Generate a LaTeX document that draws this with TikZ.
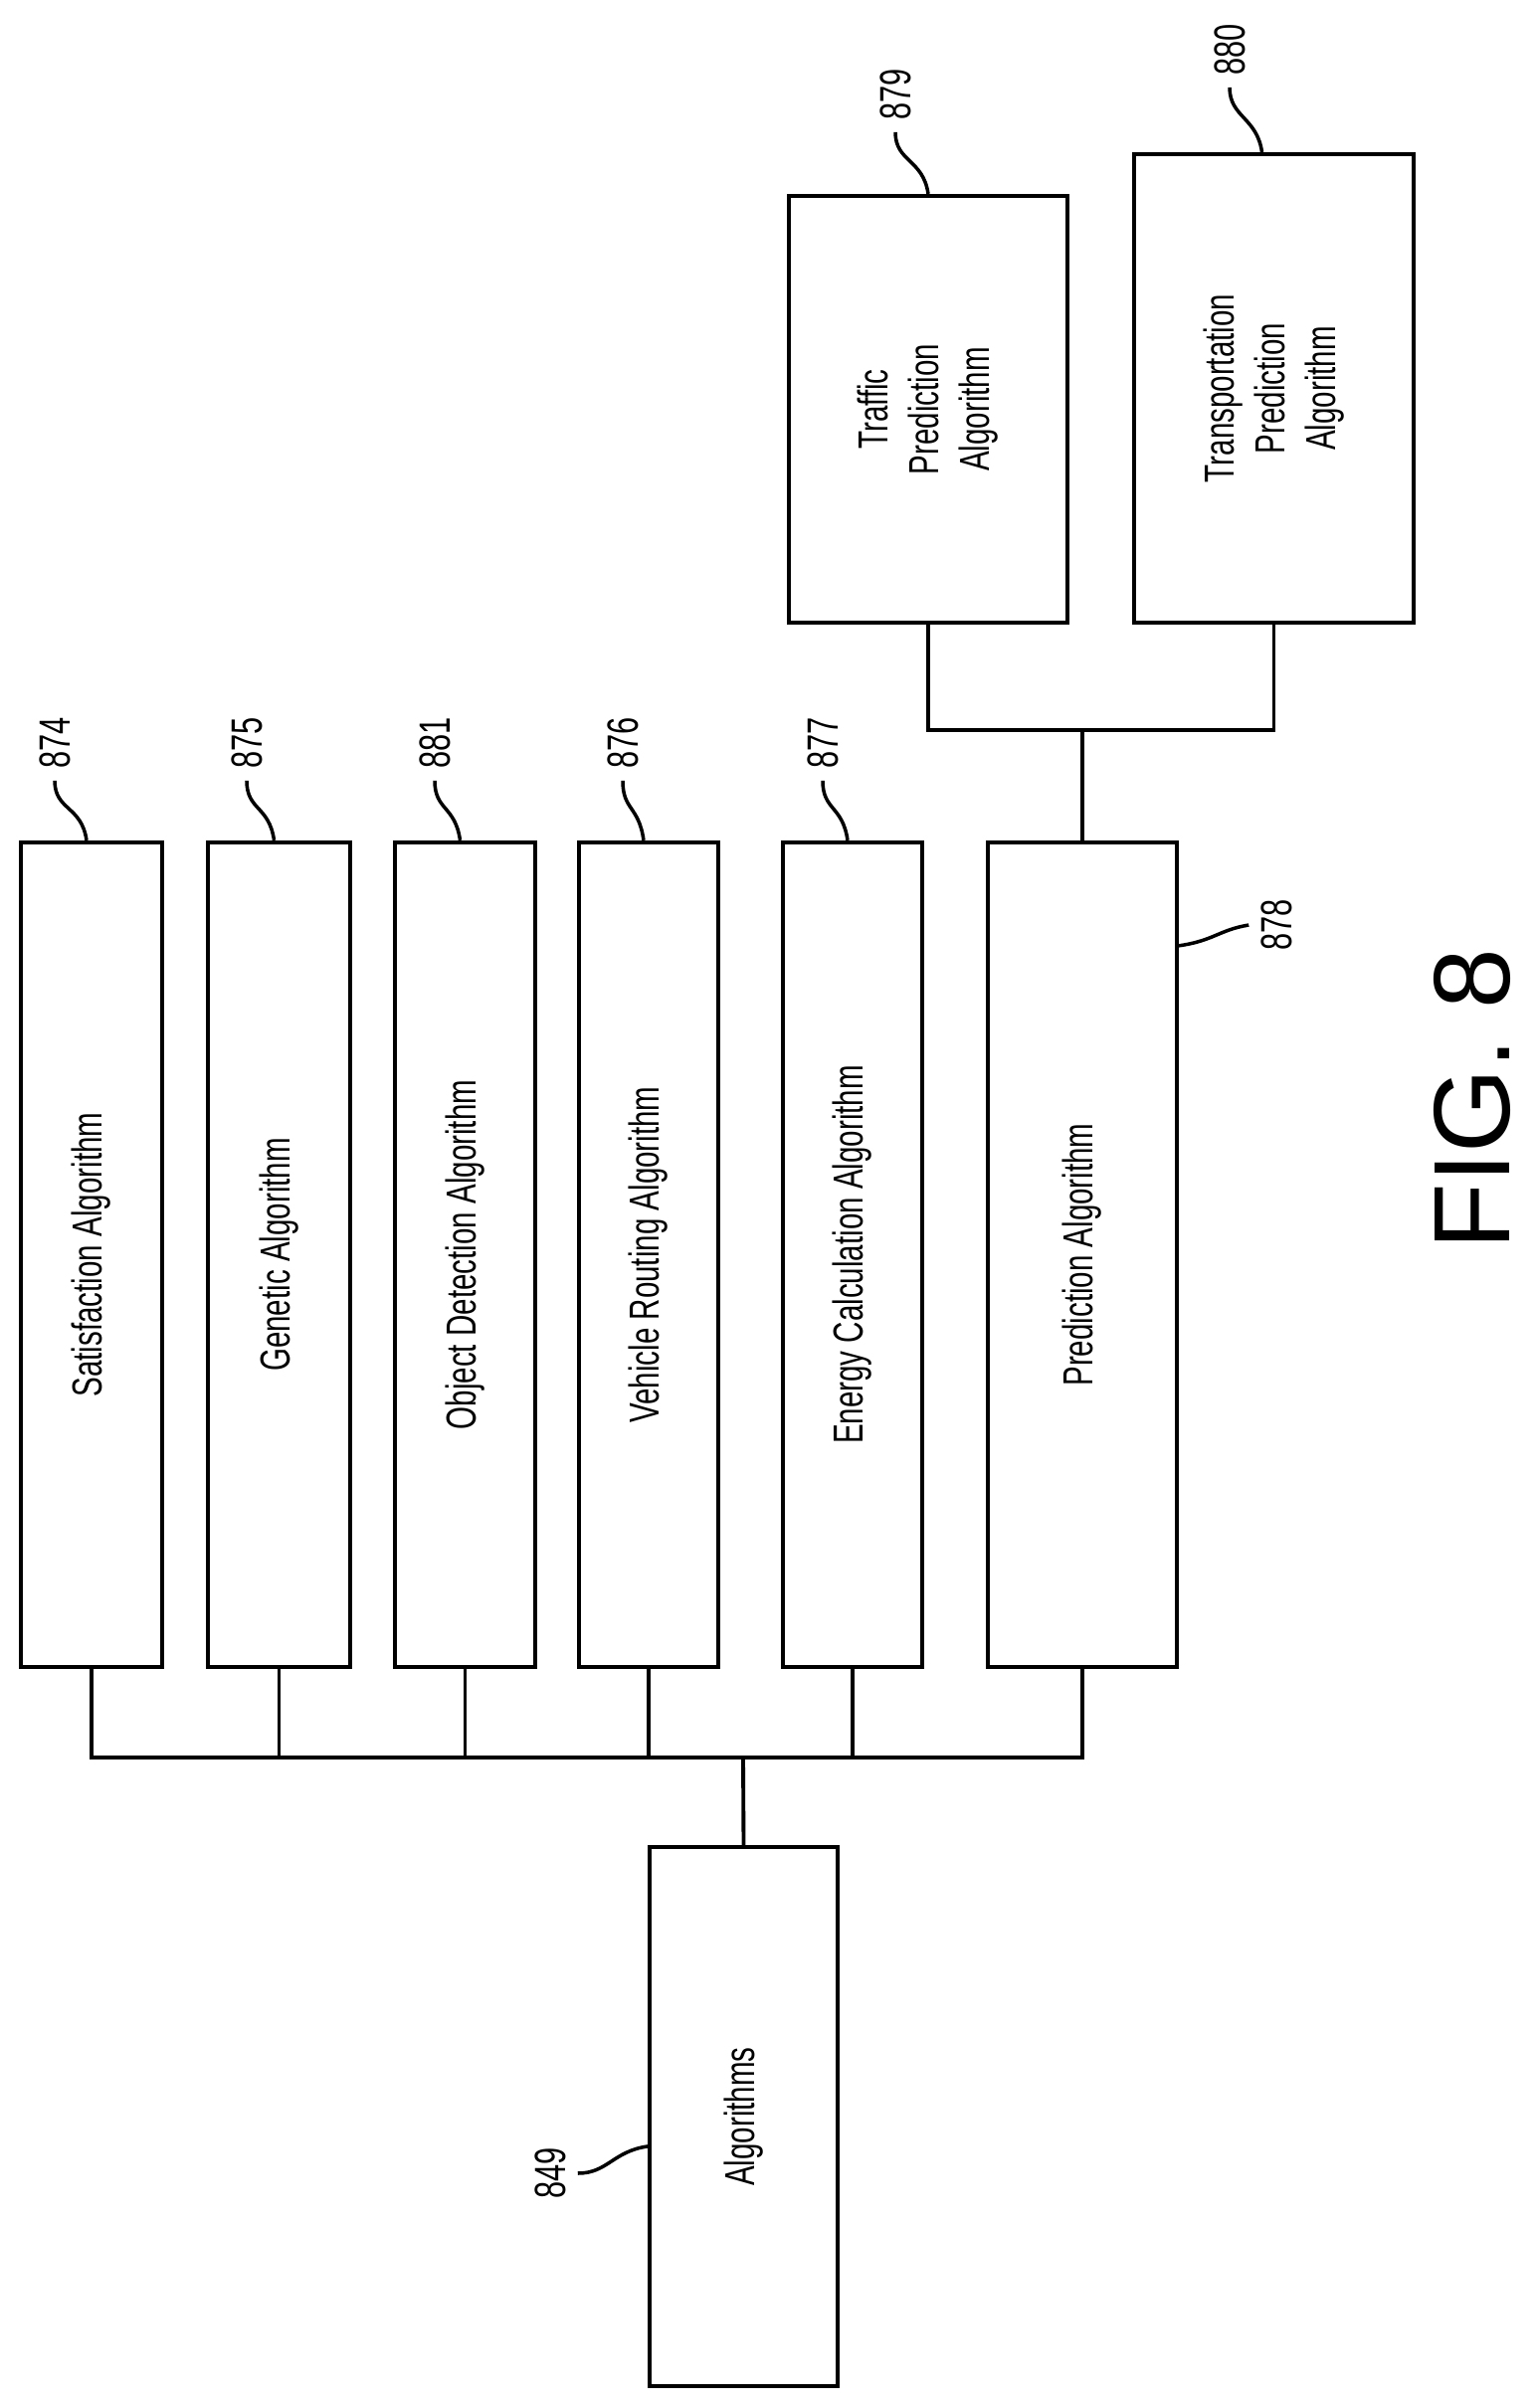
\documentclass[tikz,border=0pt]{standalone}
\usepackage{fontspec}
\setmainfont{Liberation Sans}
\newfontfamily\narrowfont[FakeStretch=0.7]{Liberation Sans}
\usetikzlibrary{calc}

\tikzset{
  algbox/.style={draw, line width=1.1pt, rectangle, rotate=90, align=center,
    font=\narrowfont\fontsize{12}{14.5}\selectfont, inner sep=0pt},
  refnum/.style={rotate=90, font=\narrowfont\fontsize{12.5}{14}\selectfont, inner sep=1pt},
  lead/.style={line width=1pt},
  wire/.style={line width=1.1pt}
}

\begin{document}
\begin{tikzpicture}[x=0.01cm, y=-0.01cm]
    \useasboundingbox (0,0) rectangle (1545,2421);
    % algorithm boxes (rotated)
    \node[algbox, minimum width=8.29cm, minimum height=1.42cm] (sat) at (92,1261.5) {Satisfaction Algorithm};
    \node[algbox, minimum width=8.29cm, minimum height=1.43cm] (gen) at (280.5,1261.5) {Genetic Algorithm};
    \node[algbox, minimum width=8.29cm, minimum height=1.41cm] (obj) at (467.5,1261.5) {Object Detection Algorithm};
    \node[algbox, minimum width=8.29cm, minimum height=1.40cm] (veh) at (652,1261.5) {Vehicle Routing Algorithm};
    \node[algbox, minimum width=8.29cm, minimum height=1.40cm] (ene) at (857,1261.5) {Energy Calculation Algorithm};
    \node[algbox, minimum width=8.29cm, minimum height=1.90cm] (pre) at (1088,1261.5) {Prediction Algorithm};
    \node[algbox, minimum width=5.42cm, minimum height=1.89cm] (alg) at (747.5,2128) {Algorithms};
    \node[algbox, minimum width=4.29cm, minimum height=2.80cm] (tra) at (933,411.5) {Traffic\\Prediction\\Algorithm};
    \node[algbox, minimum width=4.71cm, minimum height=2.81cm] (trn) at (1280.5,390.5) {Transportation\\Prediction\\Algorithm};

    % connectors
    \coordinate (bus) at (747,1767);
    \coordinate (join) at (1088,734);
    \draw[wire] (alg.east) -- (bus);
    \foreach \b in {sat,gen,obj,veh,ene,pre}
        \draw[wire] (\b.west) |- (bus);
    \draw[wire] (pre.east) -- (join);
    \draw[wire] (tra.west) |- (join);
    \draw[wire] (trn.west) |- (join);

    % reference numerals
    \node[refnum] (l874) at (55,747) {874};
    \node[refnum] (l875) at (248,747) {875};
    \node[refnum] (l881) at (437,747) {881};
    \node[refnum] (l876) at (626,747) {876};
    \node[refnum] (l877) at (827,747) {877};
    \node[refnum] (l878) at (1283,930) {878};
    \node[refnum] (l879) at (900,95) {879};
    \node[refnum] (l880) at (1236,50) {880};
    \node[refnum] (l849) at (553,2185) {849};
    \foreach \b/\l in {sat/l874,gen/l875,obj/l881,veh/l876,ene/l877}
        \draw[lead] ($(\b.east)+(-5,0)$) .. controls +(-5,-35) and +(0,30) .. ($(\l.west)+(0,8)$);
    \draw[lead] (tra.east) .. controls +(-5,-35) and +(0,30) .. ($(l879.west)+(0,8)$);
    \draw[lead] ($(trn.east)+(-12,0)$) .. controls +(-5,-35) and +(0,30) .. ($(l880.west)+(0,8)$);
    \draw[lead] ($(pre.south east)+(0,106)$) .. controls +(35,-5) and +(-30,5) .. ($(l878.north)+(-8,0)$);
    \draw[lead] ($(alg.north east)+(0,303)$) .. controls +(-35,5) and +(30,0) .. ($(l849.south)+(8,0)$);

    \node[rotate=90, font=\fontsize{31}{34}\selectfont] (fig) at (1480,1105) {FIG. 8};
\end{tikzpicture}
\end{document}
